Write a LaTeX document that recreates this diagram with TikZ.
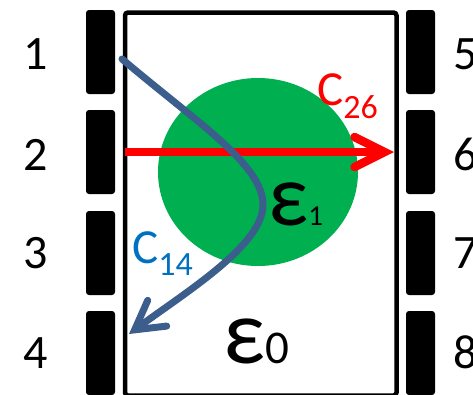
\documentclass[tikz,border=0pt]{standalone}
\usepackage{fontspec}
\setmainfont{Carlito}
\usetikzlibrary{arrows.meta,shapes.geometric}

\definecolor{dropgreen}{RGB}{0,176,80}
\definecolor{pathblue}{RGB}{59,94,140}
\definecolor{labelblue}{RGB}{0,112,192}
\definecolor{pathred}{RGB}{255,0,0}

\newcommand{\fsz}[1]{\fontsize{#1pt}{#1pt}\selectfont}

\tikzset{
  electrode/.style={fill=black, draw=none, rounded corners=3pt,
    minimum width=29pt, minimum height=84pt, inner sep=0pt},
  pinlabel/.style={anchor=base, inner sep=0pt, font=\fsz{48}},
  chamberbox/.style={draw=black, line width=4.5pt, rounded corners=3pt,
    minimum width=271.5pt, minimum height=383pt, inner sep=0pt},
  dropshape/.style={ellipse, fill=dropgreen, draw=none,
    minimum width=200pt, minimum height=188pt, inner sep=0pt},
  redpath/.style={draw=pathred, line width=8.5pt,
    -{Straight Barb[length=30pt,width=30pt,line cap=round,line join=miter]}},
  bluepath/.style={draw=pathblue, line width=7pt, line cap=round,
    -{Straight Barb[length=28pt,width=32pt,line cap=round,line join=miter]}},
  txt/.style={anchor=base west, inner sep=0pt}
}

\begin{document}
\begin{tikzpicture}[x=1pt,y=-1pt]
\useasboundingbox (0,0) rectangle (473,394);

% electrodes on both sides
\node[electrode] (e1) at (100.5,52)  {};
\node[electrode] (e2) at (100.5,152) {};
\node[electrode] (e3) at (100.5,253) {};
\node[electrode] (e4) at (100.5,353) {};
\node[electrode] (e5) at (420.5,52)  {};
\node[electrode] (e6) at (420.5,152) {};
\node[electrode] (e7) at (420.5,253) {};
\node[electrode] (e8) at (420.5,353) {};

% electrode numbers
\node[pinlabel] (n1) at (36,69)  {1};
\node[pinlabel] (n2) at (36,170) {2};
\node[pinlabel] (n3) at (36,268) {3};
\node[pinlabel] (n4) at (36,368) {4};
\node[pinlabel] (n5) at (466,69)  {5};
\node[pinlabel] (n6) at (466,170) {6};
\node[pinlabel] (n7) at (466,268) {7};
\node[pinlabel] (n8) at (466,368) {8};

% chamber and inclusion
\node[chamberbox] (chamber) at (260.75,204) {};
\node[dropshape] (drop) at (258,172) {};

% straight current path 2 -> 6
\coordinate (rs) at (125,152);
\coordinate (re) at (394,152);
\draw[redpath] (rs) -- (re);

% bent current path 1 -> 4
\coordinate (bs) at (122,59);
\coordinate (bm) at (263,205);
\coordinate (be) at (129,334);
\draw[bluepath] (bs) .. controls (200,125) and (263,165) .. (bm)
  .. controls (263,245) and (186,292) .. (be);

% labels
\node[txt, text=pathred] (c26) at (317,105)
  {\fsz{49}C\raisebox{-13pt}{\fsz{34}26}};
\node[txt, text=labelblue] (c14) at (132,263)
  {\fsz{49}C\raisebox{-12pt}{\fsz{34}14}};
\node[txt] (eps1) at (268,225) {\fsz{88}ε\fsz{29}1};
\node[txt] (eps0) at (223,363) {\fsz{92}ε\fsz{47}0};
\end{tikzpicture}
\end{document}
